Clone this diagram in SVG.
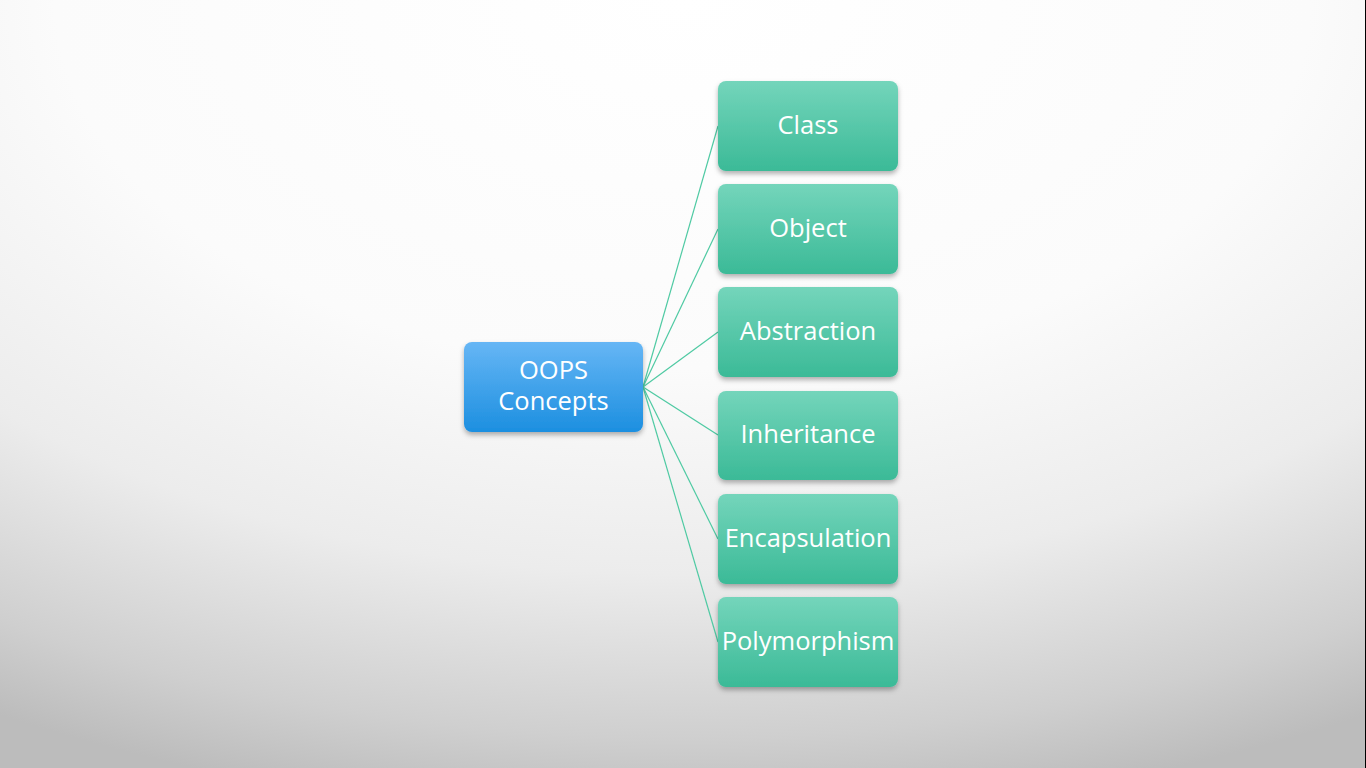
<svg xmlns="http://www.w3.org/2000/svg" width="1366" height="768" viewBox="0 0 1366 768">
<defs>
<radialGradient id="bg" cx="683" cy="0" r="820" gradientUnits="userSpaceOnUse" gradientTransform="translate(683 0) scale(1.7 1) translate(-683 0)">
<stop offset="0" stop-color="#ffffff"/>
<stop offset="0.45" stop-color="#fbfbfb"/>
<stop offset="0.7" stop-color="#ececec"/>
<stop offset="0.9" stop-color="#cfcfcf"/>
<stop offset="1" stop-color="#bcbcbc"/>
</radialGradient>
<linearGradient id="gBlue" x1="0" y1="0" x2="0" y2="1">
<stop offset="0" stop-color="#66b6f5"/>
<stop offset="1" stop-color="#1c8fe0"/>
</linearGradient>
<linearGradient id="gGreen" x1="0" y1="0" x2="0" y2="1">
<stop offset="0" stop-color="#74d5bb"/>
<stop offset="1" stop-color="#3bba97"/>
</linearGradient>
<filter id="sh" x="-20%" y="-20%" width="140%" height="150%">
<feDropShadow dx="0" dy="3" stdDeviation="2.5" flood-color="#000" flood-opacity="0.3"/>
</filter>
</defs>
<style>
.lbl{font-family:"Open Sans","Liberation Sans",sans-serif;font-size:25.5px;fill:#ffffff;text-anchor:middle}
.conn line{stroke:#4fcaa3;stroke-width:1.2}
.g rect{fill:url(#gGreen);filter:url(#sh)}
</style>
<rect width="1366" height="768" fill="url(#bg)"/>
<rect x="1365" y="0" width="1" height="768" fill="#000"/>
<g class="conn" id="connectors">
<line x1="643" y1="387" x2="718" y2="126"/>
<line x1="643" y1="387" x2="718" y2="229"/>
<line x1="643" y1="387" x2="718" y2="332"/>
<line x1="643" y1="387" x2="718" y2="435"/>
<line x1="643" y1="387" x2="718" y2="539"/>
<line x1="643" y1="387" x2="718" y2="642"/>
</g>
<g id="oops">
<rect x="464" y="342" width="179" height="90" rx="8" fill="url(#gBlue)" filter="url(#sh)"/>
<text class="lbl" x="553.5" y="379">OOPS</text>
<text class="lbl" x="553.5" y="410">Concepts</text>
</g>
<g id="class" class="g"><rect x="718" y="81" width="180" height="90" rx="8"/><text class="lbl" x="808" y="134">Class</text></g>
<g id="object" class="g"><rect x="718" y="184" width="180" height="90" rx="8"/><text class="lbl" x="808" y="237">Object</text></g>
<g id="abstraction" class="g"><rect x="718" y="287" width="180" height="90" rx="8"/><text class="lbl" x="808" y="340">Abstraction</text></g>
<g id="inheritance" class="g"><rect x="718" y="391" width="180" height="89" rx="8"/><text class="lbl" x="808" y="443">Inheritance</text></g>
<g id="encapsulation" class="g"><rect x="718" y="494" width="180" height="90" rx="8"/><text class="lbl" x="808" y="547">Encapsulation</text></g>
<g id="polymorphism" class="g"><rect x="718" y="597" width="180" height="90" rx="8"/><text class="lbl" x="808" y="650">Polymorphism</text></g>
</svg>
